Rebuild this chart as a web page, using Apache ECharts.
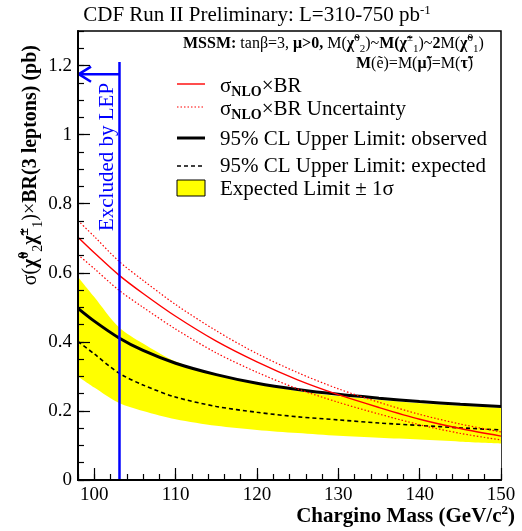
<!DOCTYPE html>
<html>
<head>
<meta charset="utf-8">
<script src="https://cdn.jsdelivr.net/npm/echarts@6/dist/echarts.min.js"></script>
<style>
  html, body { margin: 0; padding: 0; background: #fff; }
  #chart { width: 522px; height: 531px; }
</style>
</head>
<body>
<div id="chart"></div>
<script>
// chargino mass (GeV/c^2) sample points
var mass = [98, 100, 103, 106, 110, 115, 120, 125, 130, 135, 140, 145, 150];
// sigma_NLO x BR and its uncertainty band (pb)
var sigmaNLO = [0.703, 0.658, 0.594, 0.540, 0.474, 0.402, 0.342, 0.290, 0.247, 0.210, 0.176, 0.149, 0.127];
var sigmaUp = [0.751, 0.705, 0.634, 0.578, 0.508, 0.432, 0.366, 0.311, 0.264, 0.225, 0.190, 0.162, 0.139];
var sigmaDown = [0.652, 0.612, 0.550, 0.500, 0.437, 0.368, 0.312, 0.264, 0.225, 0.191, 0.160, 0.135, 0.116];
// 95% CL upper limits (pb)
var limitObserved = [0.497, 0.460, 0.412, 0.375, 0.338, 0.305, 0.280, 0.262, 0.248, 0.237, 0.227, 0.219, 0.213];
var limitExpected = [0.401, 0.365, 0.310, 0.275, 0.240, 0.213, 0.196, 0.183, 0.174, 0.165, 0.158, 0.151, 0.145];
// expected limit +- 1 sigma
var bandHigh = [0.588, 0.530, 0.443, 0.395, 0.343, 0.305, 0.278, 0.258, 0.243, 0.232, 0.222, 0.215, 0.209];
var bandLow = [0.300, 0.268, 0.224, 0.200, 0.176, 0.157, 0.145, 0.136, 0.128, 0.122, 0.117, 0.111, 0.106];
// LEP exclusion marker
var lepLine = [[103.1, 0], [103.1, 1.21]];
var lepArrow = [[103.1, 1.175], [98.1, 1.175]];
var lepHead = [[99.6, 1.197], [98.1, 1.175], [99.6, 1.153]];
// tick labels
var xTicks = [100, 110, 120, 130, 140, 150];
var yTicks = [0, 0.2, 0.4, 0.6, 0.8, 1, 1.2];

var serif = '"Liberation Serif", "DejaVu Serif", serif';

function pairs(ys) {
  return mass.map(function (m, i) { return [m, ys[i]]; });
}

function rs(size, weight, extra) {
  var s = { fontFamily: serif, fontSize: size, fontWeight: weight || 'normal', fill: '#000' };
  for (var k in extra) s[k] = extra[k];
  return s;
}

var chart = echarts.init(document.getElementById('chart'));

function curve(o) {
  var r = { type: 'line', symbol: 'none', smooth: 0.3, silent: true };
  for (var k in o) r[k] = o[k];
  return r;
}

var txt = 21;
var richLegend = {
  b: rs(txt, 'normal', { lineHeight: 26 }),
  sub: rs(14, 'bold', { lineHeight: 14, verticalAlign: 'bottom' })
};
var richMssm = {
  r: rs(16, 'normal', { lineHeight: 22 }),
  b: rs(16, 'bold', { lineHeight: 22 }),
  sup: rs(11, 'normal', { lineHeight: 12, verticalAlign: 'top' }),
  sub: rs(11, 'normal', { lineHeight: 12, verticalAlign: 'bottom' })
};
var richY = {
  b: rs(20, 'bold', { lineHeight: 28 }),
  r: rs(20, 'normal', { lineHeight: 28 }),
  sup: rs(14, 'bold', { lineHeight: 14, verticalAlign: 'top' }),
  sub: rs(14, 'normal', { lineHeight: 14, verticalAlign: 'bottom' })
};

chart.setOption({
  backgroundColor: '#fff',
  animation: false,
  grid: {
    left: 78, right: 21, top: 31, bottom: 51,
    show: true, borderColor: '#000', borderWidth: 1.5, backgroundColor: '#fff'
  },
  xAxis: [{
    type: 'value', min: 98, max: 150, z: 10,
    axisLine: { onZero: false, lineStyle: { color: '#000', width: 2 } },
    axisTick: { inside: true, length: 12, customValues: xTicks, lineStyle: { color: '#000', width: 1.2 } },
    axisLabel: { customValues: xTicks, color: '#000', fontFamily: serif, fontSize: 19, margin: 6 },
    splitLine: { show: false }
  }, {
    // minor ticks every 2 GeV
    type: 'value', min: 98, max: 150, interval: 2, position: 'bottom', z: 10,
    axisLine: { show: false },
    axisTick: { inside: true, length: 6, lineStyle: { color: '#000', width: 1.2 } },
    axisLabel: { show: false },
    splitLine: { show: false }
  }],
  yAxis: [{
    type: 'value', min: 0, max: 1.3, z: 10,
    axisLine: { onZero: false, lineStyle: { color: '#000', width: 2 } },
    axisTick: { inside: true, length: 12, customValues: yTicks, lineStyle: { color: '#000', width: 1.2 } },
    axisLabel: { customValues: yTicks, color: '#000', fontFamily: serif, fontSize: 19, margin: 6 },
    splitLine: { show: false }
  }, {
    type: 'value', min: 0, max: 1.3, interval: 0.05, position: 'left', z: 10,
    axisLine: { show: false },
    axisTick: { inside: true, length: 6, lineStyle: { color: '#000', width: 1.2 } },
    axisLabel: { show: false },
    splitLine: { show: false }
  }],
  series: [
    // yellow +-1 sigma band: fill under the upper edge, then mask below the lower edge
    curve({
      name: 'bandHigh', data: pairs(bandHigh),
      lineStyle: { width: 0 },
      areaStyle: { color: '#ffff00', opacity: 1, origin: 'start' }
    }),
    curve({
      name: 'bandLow', data: pairs(bandLow),
      lineStyle: { width: 0 },
      areaStyle: { color: '#ffffff', opacity: 1, origin: 'start' }
    }),
    curve({ name: 'observed', data: pairs(limitObserved), lineStyle: { color: '#000', width: 3 } }),
    curve({ name: 'expected', data: pairs(limitExpected), lineStyle: { color: '#000', width: 1.6, type: [4, 3] } }),
    curve({ name: 'up', data: pairs(sigmaUp), lineStyle: { color: '#ff0000', width: 1.2, type: [1.5, 2] } }),
    curve({ name: 'down', data: pairs(sigmaDown), lineStyle: { color: '#ff0000', width: 1.2, type: [1.5, 2] } }),
    curve({ name: 'sigma', data: pairs(sigmaNLO), lineStyle: { color: '#ff0000', width: 1.4 } }),
    { type: 'line', symbol: 'none', silent: true, data: lepLine, lineStyle: { color: '#0000ff', width: 2.5 } },
    { type: 'line', symbol: 'none', silent: true, data: lepArrow, lineStyle: { color: '#0000ff', width: 2.5 } },
    { type: 'line', symbol: 'none', silent: true, data: lepHead, lineStyle: { color: '#0000ff', width: 2.5 } }
  ],
  graphic: [
    // title
    { type: 'text', x: 257, y: 15, style: {
      text: 'CDF Run II Preliminary: L=310-750 pb{sup|-1}',
      align: 'center', verticalAlign: 'middle',
      fontFamily: serif, fontSize: 21, fill: '#000',
      rich: { sup: rs(13, 'normal', { verticalAlign: 'top', lineHeight: 13 }) }
    }},
    // model text
    { type: 'text', x: 183, y: 44, style: {
      text: '{b|MSSM:}{r| tanβ=3, }{b|μ>0,}{r| M(}{b|χ̃}{sup|0}{sub|2}{r|)~}{b|M(χ̃}{sup|±}{sub|1}{r|)~}{b|2}{r|M(}{b|χ̃}{sup|0}{sub|1}{r|)}',
      verticalAlign: 'middle', rich: richMssm
    }},
    { type: 'text', x: 356, y: 64, style: {
      text: '{b|M}{r|(ẽ)=M(}{b|μ̃}{r|)=M(}{b|τ̃}{r|)}',
      verticalAlign: 'middle', rich: richMssm
    }},
    // legend
    { type: 'line', shape: { x1: 177, y1: 84, x2: 205, y2: 84 }, style: { stroke: '#ff0000', lineWidth: 1.4 } },
    { type: 'line', shape: { x1: 177, y1: 107, x2: 205, y2: 107 }, style: { stroke: '#ff0000', lineWidth: 1.2, lineDash: [1.5, 2] } },
    { type: 'line', shape: { x1: 177, y1: 138, x2: 205, y2: 138 }, style: { stroke: '#000', lineWidth: 3 } },
    { type: 'line', shape: { x1: 177, y1: 166, x2: 205, y2: 166 }, style: { stroke: '#000', lineWidth: 1.6, lineDash: [4, 3] } },
    { type: 'rect', shape: { x: 177, y: 180, width: 28, height: 16 }, style: { fill: '#ffff00', stroke: '#000', lineWidth: 1 } },
    { type: 'text', x: 220, y: 86, style: { text: '{b|σ}{sub|NLO}{b|×BR}', verticalAlign: 'middle', rich: richLegend } },
    { type: 'text', x: 220, y: 109, style: { text: '{b|σ}{sub|NLO}{b|×BR Uncertainty}', verticalAlign: 'middle', rich: richLegend } },
    { type: 'text', x: 220, y: 139, style: { text: '95% CL Upper Limit: observed', verticalAlign: 'middle', fontFamily: serif, fontSize: txt, fill: '#000' } },
    { type: 'text', x: 220, y: 166, style: { text: '95% CL Upper Limit: expected', verticalAlign: 'middle', fontFamily: serif, fontSize: txt, fill: '#000' } },
    { type: 'text', x: 220, y: 189, style: { text: 'Expected Limit ± 1σ', verticalAlign: 'middle', fontFamily: serif, fontSize: txt, fill: '#000' } },
    // LEP text
    { type: 'text', x: 107, y: 157, rotation: Math.PI / 2, style: {
      text: 'Excluded by LEP', align: 'center', verticalAlign: 'middle',
      fontFamily: serif, fontSize: 21, fill: '#0000ff'
    }},
    // axis titles
    { type: 'text', x: 515, y: 517, style: {
      text: '{b|Chargino Mass (GeV/c}{sup|2}{b|)}', align: 'right', verticalAlign: 'middle',
      rich: { b: rs(21, 'bold', { lineHeight: 26 }), sup: rs(13, 'bold', { lineHeight: 13, verticalAlign: 'top' }) }
    }},
    { type: 'text', x: 31, y: 45, rotation: Math.PI / 2, style: {
      text: '{r|σ(}{b|χ̃}{sup|0}{sub|2}{b|χ̃}{sup|±}{sub|1}{r|)×}{b|BR(3 leptons) (pb)}',
      align: 'right', verticalAlign: 'middle', rich: richY
    }}
  ]
});
</script>
</body>
</html>
